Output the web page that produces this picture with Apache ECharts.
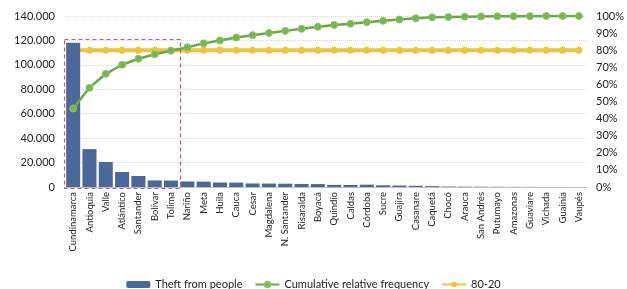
<!DOCTYPE html>
<html><head><meta charset="utf-8">
<script src="https://cdn.jsdelivr.net/npm/echarts@6/dist/echarts.min.js"></script>
<style>html,body{margin:0;padding:0;background:#fff}#c{width:627px;height:289px}</style>
</head><body><div id="c"></div>
<script>
const categories = ['Cundinamarca','Antioquia','Valle','Atlántico','Santander','Bolívar','Tolima','Nariño','Meta','Huila','Cauca','Cesar','Magdalena','N. Santander','Risaralda','Boyacá','Quindío','Caldas','Córdoba','Sucre','Guajira','Casanare','Caquetá','Chocó','Arauca','San Andrés','Putumayo','Amazonas','Guaviare','Vichada','Guainía','Vaupés'];
const theft = [118100,31000,20500,12300,9000,5400,5300,4500,4400,3700,3600,2900,2800,2700,2500,2400,1700,1650,1900,1400,1200,1000,700,400,300,250,200,120,100,60,40,20];
const cumulative = [45.9,58.0,66.2,71.5,75.0,77.6,79.7,81.7,84.0,85.7,87.4,88.8,90.1,91.3,92.5,93.7,94.8,95.5,96.4,97.2,98.0,98.7,99.2,99.4,99.6,99.7,99.8,99.9,99.9,100,100,100];
const ref8020 = [80,80,80,80,80,80,80,80,80,80,80,80,80,80,80,80,80,80,80,80,80,80,80,80,80,80,80,80,80,80,80,80];
const leftTicks = {min:0, max:140000, interval:20000};
const rightTicks = {min:0, max:100, interval:10};
const highlightFrom = 'Cundinamarca', highlightTo = 'Tolima', highlightTop = 120000;

const font = 'Lato';
const chart = echarts.init(document.getElementById('c'));
chart.setOption({
  animation:false,
  textStyle:{fontFamily:font},
  grid:{left:65,right:39,top:16,bottom:102},
  legend:{bottom:-6,left:'center',itemGap:12,itemWidth:24,itemHeight:7,
    textStyle:{fontFamily:font,fontSize:11,color:'#222'},
    data:['Theft from people','Cumulative relative frequency','80-20']},
  xAxis:{type:'category',data:categories,
    axisLine:{lineStyle:{color:'#bfbfbf'}},axisTick:{show:false},
    axisLabel:{rotate:90,interval:0,fontSize:9.5,color:'#222',margin:5}},
  yAxis:[
    {type:'value',min:leftTicks.min,max:leftTicks.max,interval:leftTicks.interval,
     axisLabel:{fontSize:11,color:'#222',margin:10,
       formatter:v=>String(v).replace(/\B(?=(\d{3})+(?!\d))/g,'.')},
     splitLine:{lineStyle:{color:'#d8d8d8',type:'dotted'}}},
    {type:'value',min:rightTicks.min,max:rightTicks.max,interval:rightTicks.interval,
     axisLabel:{fontSize:11,color:'#222',margin:9,formatter:'{value}%'},
     splitLine:{show:false}}
  ],
  series:[
    {name:'Theft from people',type:'bar',data:theft,barCategoryGap:'14%',
     itemStyle:{color:'#4a6899'}},
    {name:'Cumulative relative frequency',type:'line',yAxisIndex:1,data:cumulative,
     symbol:'circle',symbolSize:7,lineStyle:{color:'#6aa843',width:2.5},
     itemStyle:{color:'#79b553',borderColor:'#8cc46a',borderWidth:1}},
    {name:'80-20',type:'line',yAxisIndex:1,data:ref8020,
     symbol:'circle',symbolSize:7,lineStyle:{color:'#eec43a',width:4},
     itemStyle:{color:'#eec43a'},z:1}
  ]
});
const a = chart.convertToPixel({xAxisIndex:0,yAxisIndex:0},[highlightFrom,highlightTop]);
const b = chart.convertToPixel({xAxisIndex:0,yAxisIndex:0},[highlightTo,0]);
const n = chart.convertToPixel({xAxisIndex:0,yAxisIndex:0},[categories[1],0]);
const bw = n[0]-a[0];
chart.setOption({graphic:[{type:'rect',silent:true,z:100,
  shape:{x:Math.round(a[0]-bw/2-1.5)+0.5,y:Math.round(a[1]-1)+0.5,width:Math.round((b[0]-a[0])+bw+2),height:Math.round(b[1]-a[1]+2.5)},
  style:{fill:'none',stroke:'#c8576a',lineWidth:1.2,lineDash:[4,3]}}]});
</script></body></html>
